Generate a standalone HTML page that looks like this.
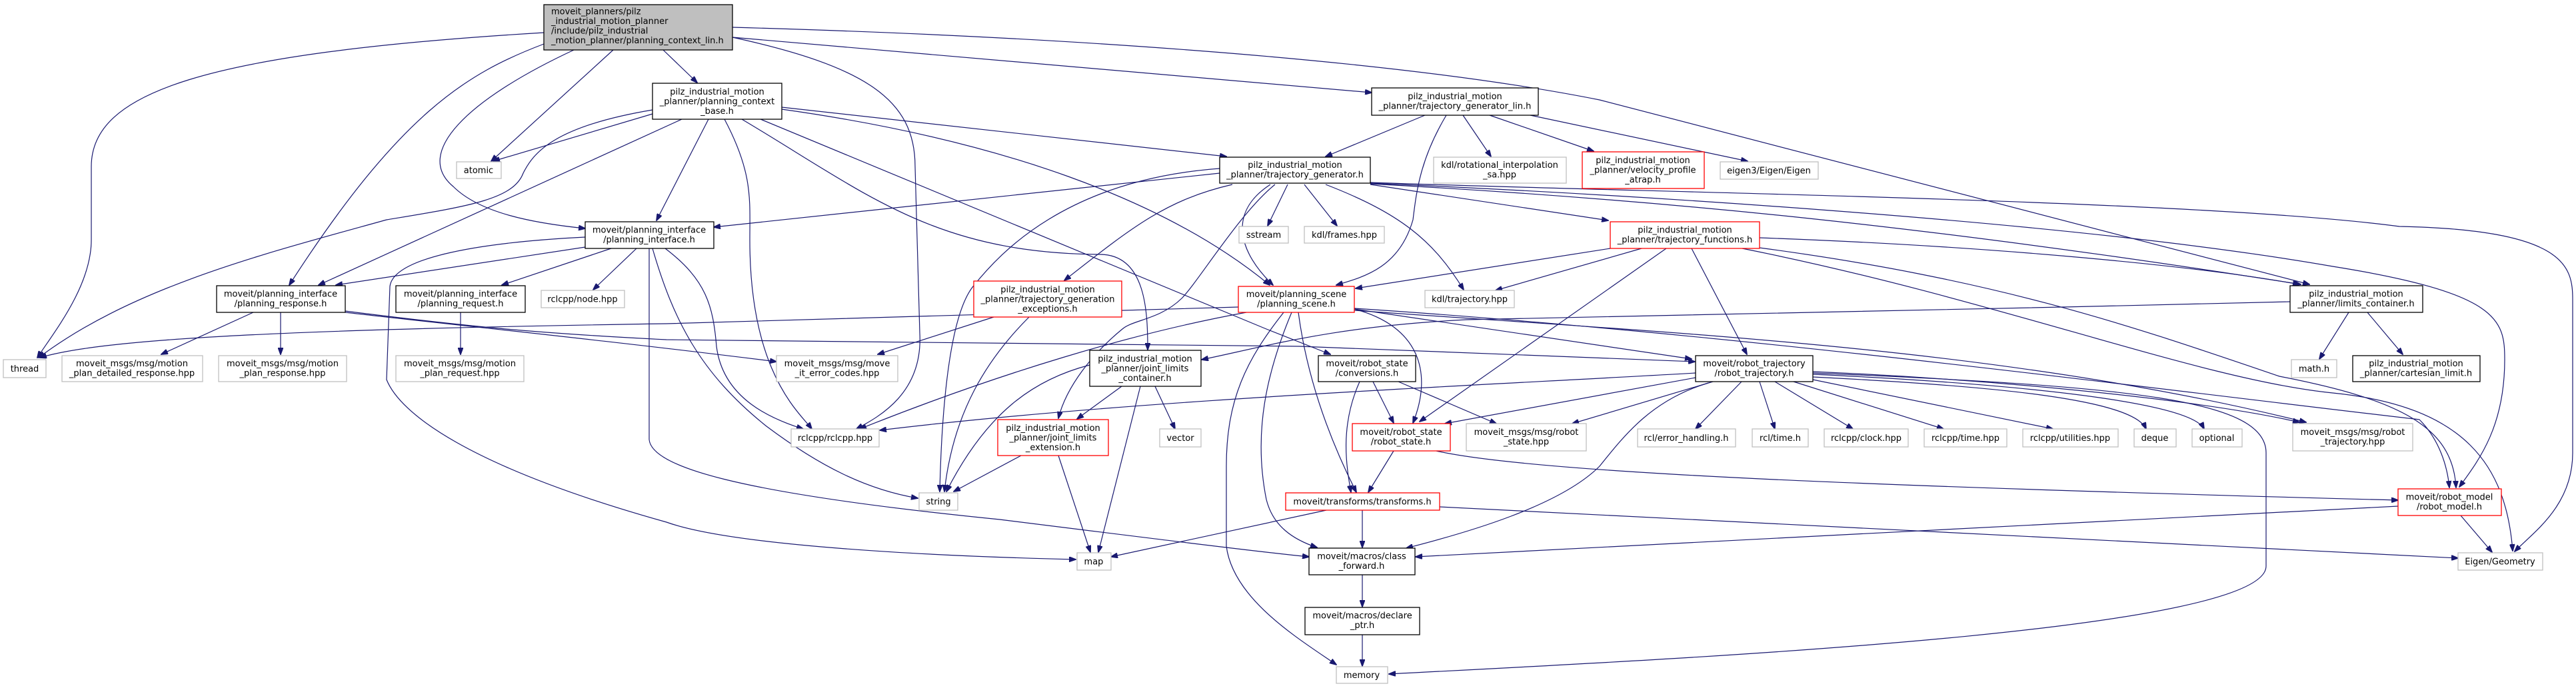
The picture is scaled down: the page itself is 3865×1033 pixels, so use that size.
<!DOCTYPE html>
<html><head><meta charset="utf-8"><style>
html,body{margin:0;padding:0;background:#fff;}
svg{display:block;}
text{font-family:"DejaVu Sans","Liberation Sans",sans-serif;font-size:13px;fill:#000;}
.g{fill:#fff;stroke:#bfbfbf;stroke-width:1.3}
.b{fill:#fff;stroke:#000;stroke-width:1.3}
.r{fill:#fff;stroke:#ff0000;stroke-width:1.3}
path.e{fill:none;stroke:#191970;stroke-width:1.2;marker-end:url(#a)}
</style></head><body>
<svg width="3865" height="1033" viewBox="0 0 3865 1033" xmlns="http://www.w3.org/2000/svg">
<defs><marker id="a" markerWidth="11" markerHeight="8" refX="10" refY="4" orient="auto" markerUnits="userSpaceOnUse"><path d="M0,0 L11,4 L0,8 z" fill="#191970" stroke="#191970"/></marker></defs>

<!-- edges -->
<path class="e" d="M816,49 C300,80 137,140 137,250 L137,360 C137,430 80,500 56,537"/>
<path class="e" d="M920,75 L737,242"/>
<path class="e" d="M816,66 C700,110 600,170 434,428"/>
<path class="e" d="M861,75 C700,150 620,230 680,280 C720,320 800,335 878,343"/>
<path class="e" d="M995,75 L1046,124"/>
<path class="e" d="M1099,56 C1300,100 1373,150 1373,250 L1380,500 C1385,590 1320,625 1285,644"/>
<path class="e" d="M1099,56 L2058,139"/>
<path class="e" d="M1099,41 C1600,55 2100,90 2400,150 L3465,427"/>

<path class="e" d="M979,171 L740,242"/>
<path class="e" d="M979,165 C830,190 800,230 785,260 C770,300 700,310 580,330 C400,380 200,430 58,537"/>
<path class="e" d="M1023,179 L478,428"/>
<path class="e" d="M1063,179 L985,331"/>
<path class="e" d="M1087,179 C1130,260 1125,300 1125,360 C1125,560 1200,620 1218,644"/>
<path class="e" d="M1113,179 C1300,290 1400,380 1650,382 C1720,382 1722,470 1722,525"/>
<path class="e" d="M1141,179 L1900,494 L1996,532"/>
<path class="e" d="M1173,161 L1840,235"/>
<path class="e" d="M1173,164 C1500,210 1750,300 1905,428"/>

<path class="e" d="M2138,173 L1989,235"/>
<path class="e" d="M2170,173 C2130,240 2125,290 2120,330 C2100,400 2050,415 2005,428"/>
<path class="e" d="M2195,173 L2237,235"/>
<path class="e" d="M2235,173 L2391,227"/>
<path class="e" d="M2296,173 L2622,242"/>

<path class="e" d="M1830,260 L1071,341"/>
<path class="e" d="M1830,253 C1600,270 1500,380 1460,430 C1420,480 1412,650 1410,738"/>
<path class="e" d="M1849,277 C1750,300 1700,340 1597,421"/>
<path class="e" d="M1913,277 C1860,320 1800,420 1773,448 C1740,480 1700,480 1684,494 C1640,530 1600,580 1588,628"/>
<path class="e" d="M1906,277 C1840,320 1860,380 1910,428"/>
<path class="e" d="M1932,277 L1902,339"/>
<path class="e" d="M1957,277 L2006,339"/>
<path class="e" d="M1989,277 C2100,320 2150,360 2196,435"/>
<path class="e" d="M2056,277 L2413,331"/>
<path class="e" d="M2056,276 C2500,300 2900,340 3452,427"/>
<path class="e" d="M2056,275 C2400,290 3100,330 3500,400 C3750,440 3758,480 3758,540 C3758,640 3720,690 3690,731"/>
<path class="e" d="M2056,274 C2500,290 3300,300 3600,340 C3850,345 3860,400 3860,450 L3860,680 C3860,760 3800,800 3773,828"/>

<path class="e" d="M878,371 L504,428"/>
<path class="e" d="M878,356 C700,365 590,390 585,430 L580,570 C600,620 700,700 1000,784 C1100,820 1400,835 1614,840"/>
<path class="e" d="M917,373 L753,428"/>
<path class="e" d="M955,373 L890,435"/>
<path class="e" d="M974,373 L974,660 C978,700 1100,740 1500,780 C1700,805 1900,830 1964,836"/>
<path class="e" d="M979,373 C1010,480 1050,560 1150,640 C1230,700 1300,735 1377,748"/>
<path class="e" d="M998,373 C1060,420 1070,460 1075,520 C1085,600 1160,630 1205,644"/>

<path class="e" d="M1858,461 L1000,486 C400,495 150,510 60,537"/>
<path class="e" d="M380,469 L242,532"/>
<path class="e" d="M421,469 L421,532"/>
<path class="e" d="M518,469 C700,490 900,510 1165,543"/>
<path class="e" d="M518,467 C700,490 800,500 1000,510 L1950,520 L2543,543"/>
<path class="e" d="M691,469 L691,532"/>

<path class="e" d="M1870,469 C1700,500 1500,560 1290,644"/>
<path class="e" d="M1926,469 C1870,540 1840,600 1840,700 L1840,820 C1850,900 1950,960 2005,998"/>
<path class="e" d="M1938,469 C1900,560 1880,650 1900,750 C1910,790 1940,810 1976,822"/>
<path class="e" d="M1948,469 C1960,560 1990,650 2035,739"/>
<path class="e" d="M2032,464 C2130,490 2150,560 2120,635"/>
<path class="e" d="M2032,464 L2538,539"/>
<path class="e" d="M2032,466 C2500,500 3000,520 3460,634"/>
<path class="e" d="M2032,463 C2600,500 3200,580 3630,630 C3660,660 3672,700 3675,732"/>
<path class="e" d="M3436,453 C3000,465 2500,470 2200,480 C2000,490 1900,520 1803,540"/>

<path class="e" d="M2416,373 L2034,433"/>
<path class="e" d="M2463,373 L2244,436"/>
<path class="e" d="M2500,373 L2130,633"/>
<path class="e" d="M2538,373 L2621,532"/>
<path class="e" d="M2640,357 C3000,370 3300,400 3450,427"/>
<path class="e" d="M2640,372 C3000,420 3200,490 3420,565 C3600,600 3680,640 3685,732"/>
<path class="e" d="M2614,373 C3000,450 3300,570 3500,590 C3700,610 3760,700 3770,827"/>

<path class="e" d="M2613,573 L2544,644"/>
<path class="e" d="M2640,573 L2663,644"/>
<path class="e" d="M2663,573 L2780,644"/>
<path class="e" d="M2691,573 L2916,644"/>
<path class="e" d="M2720,570 L3080,644"/>
<path class="e" d="M2720,566 C3000,580 3200,600 3220,644"/>
<path class="e" d="M2720,562 C3100,580 3290,610 3307,644"/>
<path class="e" d="M2720,558 C3000,570 3300,600 3450,634"/>
<path class="e" d="M2720,560 C3200,580 3400,600 3400,680 L3400,850 C3400,950 2500,990 2084,1012"/>
<path class="e" d="M2544,560 C2200,580 1700,600 1320,646"/>
<path class="e" d="M2544,567 L2168,636"/>
<path class="e" d="M2570,573 L2359,636"/>
<path class="e" d="M2563,575 C2480,600 2440,650 2400,700 C2340,760 2200,800 2110,823"/>

<path class="e" d="M2060,573 L2091,635"/>
<path class="e" d="M2040,573 C2010,640 2020,700 2027,739"/>
<path class="e" d="M2098,573 L2245,636"/>
<path class="e" d="M2091,677 L2053,739"/>
<path class="e" d="M2155,677 C2300,710 2800,730 3598,751"/>
<path class="e" d="M2044,766 L2044,822"/>
<path class="e" d="M1990,766 L1667,836"/>
<path class="e" d="M2160,761 L3688,838"/>
<path class="e" d="M2044,863 L2044,911"/>
<path class="e" d="M2044,953 L2044,1000"/>
<path class="e" d="M3598,760 L2124,836"/>
<path class="e" d="M3692,774 L3739,829"/>
<path class="e" d="M3524,469 L3480,539"/>
<path class="e" d="M3552,469 L3605,532"/>

<path class="e" d="M1635,548 C1550,570 1480,620 1420,738"/>
<path class="e" d="M1683,580 L1616,629"/>
<path class="e" d="M1711,580 L1648,829"/>
<path class="e" d="M1733,580 L1763,644"/>
<path class="e" d="M1532,684 L1431,738"/>
<path class="e" d="M1588,684 L1636,829"/>
<path class="e" d="M1491,476 L1317,532"/>
<path class="e" d="M1544,476 C1480,540 1430,620 1417,738"/>

<!-- nodes -->
<rect x="816" y="7" width="283" height="68" fill="#bfbfbf" stroke="#000" stroke-width="1.3"/>
<text x="827" y="21.5">moveit_planners/pilz</text>
<text x="827" y="36">_industrial_motion_planner</text>
<text x="827" y="50.5">/include/pilz_industrial</text>
<text x="827" y="65">_motion_planner/planning_context_lin.h</text>

<g text-anchor="middle">
<rect class="b" x="979" y="125" width="194" height="54"/>
<text x="1076" y="142">pilz_industrial_motion</text><text x="1076" y="156.5">_planner/planning_context</text><text x="1076" y="171">_base.h</text>

<rect class="b" x="2058" y="132" width="250" height="41"/>
<text x="2183" y="149">pilz_industrial_motion</text><text x="2183" y="163.5">_planner/trajectory_generator_lin.h</text>

<rect class="g" x="685" y="243" width="67" height="25"/><text x="718" y="260">atomic</text>

<rect class="b" x="1830" y="236" width="226" height="39"/>
<text x="1943" y="252">pilz_industrial_motion</text><text x="1943" y="266.5">_planner/trajectory_generator.h</text>

<rect class="g" x="2151" y="236" width="199" height="39"/>
<text x="2250" y="252">kdl/rotational_interpolation</text><text x="2250" y="266.5">_sa.hpp</text>

<rect class="r" x="2374" y="228" width="183" height="55"/>
<text x="2465" y="245">pilz_industrial_motion</text><text x="2465" y="259.5">_planner/velocity_profile</text><text x="2465" y="274">_atrap.h</text>

<rect class="g" x="2581" y="243" width="147" height="26"/><text x="2654" y="260.5">eigen3/Eigen/Eigen</text>

<rect class="b" x="878" y="333" width="193" height="40"/>
<text x="974" y="349.5">moveit/planning_interface</text><text x="974" y="364">/planning_interface.h</text>

<rect class="g" x="1859" y="340" width="74" height="25"/><text x="1896" y="357">sstream</text>
<rect class="g" x="1957" y="340" width="120" height="25"/><text x="2017" y="357">kdl/frames.hpp</text>

<rect class="r" x="2416" y="333" width="224" height="40"/>
<text x="2528" y="349.5">pilz_industrial_motion</text><text x="2528" y="364">_planner/trajectory_functions.h</text>

<rect class="b" x="325" y="429" width="193" height="40"/>
<text x="421" y="445.5">moveit/planning_interface</text><text x="421" y="460">/planning_response.h</text>

<rect class="b" x="594" y="429" width="194" height="40"/>
<text x="691" y="445.5">moveit/planning_interface</text><text x="691" y="460">/planning_request.h</text>

<rect class="g" x="812" y="436" width="125" height="26"/><text x="874" y="453.5">rclcpp/node.hpp</text>

<rect class="r" x="1461" y="422" width="222" height="54"/>
<text x="1572" y="439">pilz_industrial_motion</text><text x="1572" y="453.5">_planner/trajectory_generation</text><text x="1572" y="468">_exceptions.h</text>

<rect class="r" x="1858" y="430" width="174" height="39"/>
<text x="1945" y="446">moveit/planning_scene</text><text x="1945" y="460.5">/planning_scene.h</text>

<rect class="g" x="2138" y="436" width="134" height="26"/><text x="2205" y="453.5">kdl/trajectory.hpp</text>

<rect class="b" x="3436" y="429" width="199" height="40"/>
<text x="3535" y="445.5">pilz_industrial_motion</text><text x="3535" y="460">_planner/limits_container.h</text>

<rect class="g" x="5" y="540" width="64" height="27"/><text x="37" y="558">thread</text>

<rect class="g" x="93" y="534" width="211" height="39"/>
<text x="198" y="550">moveit_msgs/msg/motion</text><text x="198" y="564.5">_plan_detailed_response.hpp</text>

<rect class="g" x="328" y="534" width="192" height="39"/>
<text x="424" y="550">moveit_msgs/msg/motion</text><text x="424" y="564.5">_plan_response.hpp</text>

<rect class="g" x="594" y="534" width="192" height="39"/>
<text x="690" y="550">moveit_msgs/msg/motion</text><text x="690" y="564.5">_plan_request.hpp</text>

<rect class="g" x="1165" y="534" width="182" height="39"/>
<text x="1256" y="550">moveit_msgs/msg/move</text><text x="1256" y="564.5">_it_error_codes.hpp</text>

<rect class="b" x="1635" y="526" width="167" height="54"/>
<text x="1718" y="543">pilz_industrial_motion</text><text x="1718" y="557.5">_planner/joint_limits</text><text x="1718" y="572">_container.h</text>

<rect class="b" x="1978" y="534" width="146" height="39"/>
<text x="2051" y="550">moveit/robot_state</text><text x="2051" y="564.5">/conversions.h</text>

<rect class="b" x="2544" y="534" width="176" height="39"/>
<text x="2632" y="550">moveit/robot_trajectory</text><text x="2632" y="564.5">/robot_trajectory.h</text>

<rect class="g" x="3438" y="540" width="68" height="27"/><text x="3472" y="558">math.h</text>

<rect class="b" x="3530" y="534" width="191" height="39"/>
<text x="3625" y="550">pilz_industrial_motion</text><text x="3625" y="564.5">_planner/cartesian_limit.h</text>

<rect class="g" x="1187" y="644" width="132" height="27"/><text x="1253" y="662">rclcpp/rclcpp.hpp</text>

<rect class="r" x="1497" y="630" width="166" height="54"/>
<text x="1580" y="647">pilz_industrial_motion</text><text x="1580" y="661.5">_planner/joint_limits</text><text x="1580" y="676">_extension.h</text>

<rect class="g" x="1740" y="644" width="62" height="27"/><text x="1771" y="662">vector</text>

<rect class="r" x="2029" y="636" width="147" height="41"/>
<text x="2102" y="653">moveit/robot_state</text><text x="2102" y="667.5">/robot_state.h</text>

<rect class="g" x="2200" y="636" width="180" height="41"/>
<text x="2290" y="653">moveit_msgs/msg/robot</text><text x="2290" y="667.5">_state.hpp</text>

<rect class="g" x="2457" y="644" width="147" height="27"/><text x="2530" y="662">rcl/error_handling.h</text>
<rect class="g" x="2629" y="644" width="84" height="27"/><text x="2671" y="662">rcl/time.h</text>
<rect class="g" x="2737" y="644" width="126" height="27"/><text x="2800" y="662">rclcpp/clock.hpp</text>
<rect class="g" x="2887" y="644" width="124" height="27"/><text x="2949" y="662">rclcpp/time.hpp</text>
<rect class="g" x="3035" y="644" width="143" height="27"/><text x="3106" y="662">rclcpp/utilities.hpp</text>
<rect class="g" x="3202" y="644" width="63" height="27"/><text x="3233" y="662">deque</text>
<rect class="g" x="3289" y="644" width="75" height="27"/><text x="3326" y="662">optional</text>

<rect class="g" x="3440" y="636" width="180" height="41"/>
<text x="3530" y="653">moveit_msgs/msg/robot</text><text x="3530" y="667.5">_trajectory.hpp</text>

<rect class="g" x="1379" y="740" width="58" height="26"/><text x="1408" y="757.5">string</text>

<rect class="r" x="1929" y="740" width="231" height="26"/><text x="2044" y="757.5">moveit/transforms/transforms.h</text>

<rect class="r" x="3598" y="734" width="155" height="40"/>
<text x="3675" y="750.5">moveit/robot_model</text><text x="3675" y="765">/robot_model.h</text>

<rect class="g" x="1616" y="830" width="51" height="26"/><text x="1641" y="847.5">map</text>

<rect class="b" x="1964" y="823" width="159" height="40"/>
<text x="2043" y="839.5">moveit/macros/class</text><text x="2043" y="854">_forward.h</text>

<rect class="g" x="3688" y="830" width="127" height="26"/><text x="3751" y="847.5">Eigen/Geometry</text>

<rect class="b" x="1958" y="912" width="172" height="41"/>
<text x="2044" y="928.5">moveit/macros/declare</text><text x="2044" y="943">_ptr.h</text>

<rect class="g" x="2005" y="1001" width="77" height="25"/><text x="2043" y="1018">memory</text>
</g>
</svg>
</body></html>
